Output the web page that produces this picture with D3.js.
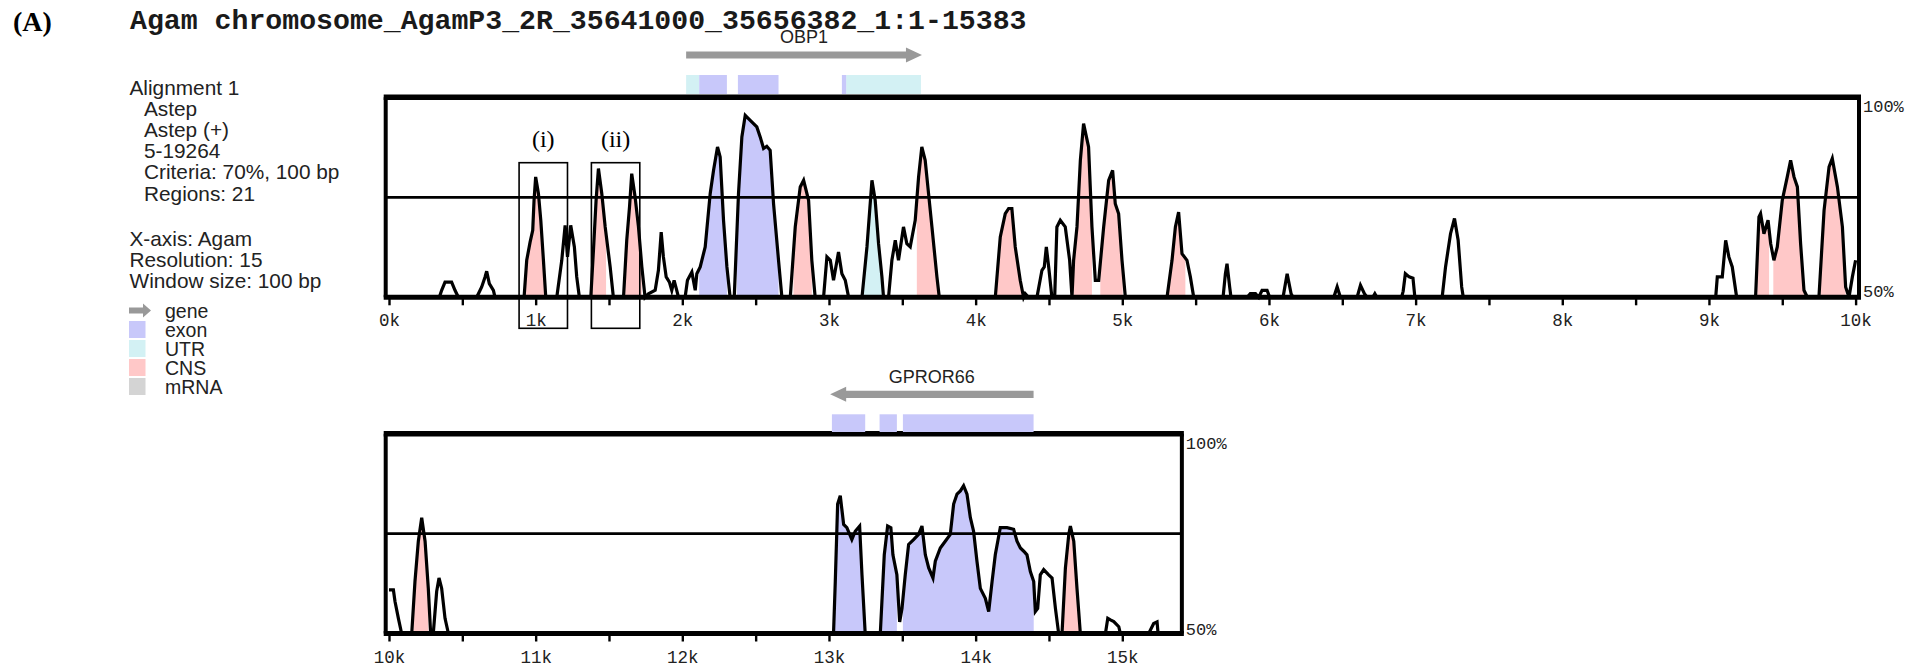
<!DOCTYPE html>
<html><head><meta charset="utf-8">
<script src="https://cdn.jsdelivr.net/npm/d3@7"></script>
<style>body{margin:0;background:#fff;} svg{display:block}</style>
</head><body><svg id="chart" width="1923" height="669"></svg>
<script>
// ---------------- DATA ----------------
const figureLabel = "(A)";
const title = "Agam chromosome_AgamP3_2R_35641000_35656382_1:1-15383";
const infoLines = ["Alignment 1", "Astep", "Astep (+)", "5-19264", "Criteria: 70%, 100 bp", "Regions: 21"];
const infoIndent = [0, 1, 1, 1, 1, 1];
const axisInfoLines = ["X-axis: Agam", "Resolution: 15", "Window size: 100 bp"];
const legendLabels = ["gene", "exon", "UTR", "CNS", "mRNA"];
const legendColors = ["#999999", "#c8c8fa", "#d3f1f4", "#ffc8c8", "#d4d4d4"];
const yTickLabels = ["100%", "50%"];
const threshold = 75;

// conservation profile [bp, % identity]
const topProfile = [
 [0,50],[343,50],[359,51.75],[382,53.8],[427,53.8],[450,51.75],[473,50],
 [598,50],[632,52.6],[655,55.1],[666,56.5],[684,53.4],[712,51.75],[723,50],
 [921,50],[939,59.25],[962,63.8],[980,66.75],[989,74.25],[1000,80.1],[1019,75.9],[1035,69.25],[1053,59.25],[1069,50],
 [1144,50],[1178,59.25],[1201,68],[1217,60.1],[1239,68],[1264,62.6],[1280,55.1],[1298,50],
 [1376,50],[1394,61.75],[1412,74.25],[1428,82.2],[1451,75.9],[1474,67.6],[1508,57.6],[1530,50],
 [1599,50],[1621,64.25],[1640,72.6],[1655,80.9],[1678,75.1],[1701,67.6],[1724,57.6],[1746,50],
 [1769,50.9],[1815,51.75],[1837,56.75],[1856,66.3],[1871,60.1],[1890,55.1],[1912,53.8],[1928,51.75],[1944,54.25],[1962,51.75],[1974,50],
 [2019,50],[2035,54.25],[2065,56.3],[2088,51.75],[2099,55.9],[2122,57.6],[2156,62.6],[2190,75.9],[2213,81.75],[2240,87.6],[2258,85.1],[2281,69.25],[2304,57.6],[2326,50],
 [2354,50],[2383,75.9],[2406,90.1],[2429,95.5],[2463,94.25],[2508,92.6],[2531,90.1],[2554,87.2],[2576,87.75],[2599,86.75],[2622,73.4],[2656,59.25],[2679,50],
 [2736,50],[2770,67.6],[2804,77.6],[2827,79.25],[2861,74.25],[2883,59.25],[2906,50],
 [2963,50],[2986,60.1],[3009,59.25],[3031,54.25],[3065,61.3],[3088,55.9],[3111,54.25],[3134,50],
 [3225,50],[3259,62.6],[3293,79.25],[3315,74.25],[3338,63.4],[3361,55.1],[3372,50],
 [3406,50],[3429,59.25],[3452,64.25],[3474,59.25],[3508,67.6],[3531,63.4],[3554,62.6],[3588,69.25],[3611,80.1],[3633,87.6],[3656,84.25],[3679,75.9],[3702,67.6],[3736,55.1],[3752,50],
 [4134,50],[4168,65.1],[4202,70.9],[4225,72.2],[4247,72.2],[4270,62.6],[4304,54.25],[4327,50],[4338,50.9],[4361,50],
 [4418,50],[4452,56.75],[4468,57.6],[4482,62.6],[4498,57.6],[4520,50],
 [4539,50],[4554,67.6],[4577,69.25],[4611,67.6],[4641,59.25],[4657,50],
 [4668,59.25],[4691,67.6],[4714,84.25],[4736,93.4],[4770,87.6],[4793,67.6],[4816,54.25],[4839,54.25],[4873,67.6],[4907,79.25],[4934,81.75],[4952,73.4],[4975,70.9],[4998,59.25],[5021,50],
 [5305,50],[5339,59.25],[5362,67.6],[5384,71.3],[5407,60.9],[5441,59.25],[5464,55.1],[5487,50],
 [5687,50],[5703,55.9],[5714,58.4],[5732,52.6],[5741,50],
 [5851,50],[5873,50.9],[5908,50.9],[5930,50],[5953,51.75],[5987,51.75],[6005,50],
 [6096,50],[6124,55.9],[6151,50.9],[6164,50],
 [6442,50],[6465,52.6],[6487,50],[6601,50],[6624,53],[6651,50.9],[6669,50],
 [6708,50],[6722,50.9],[6736,50],
 [6904,50],[6915,51.5],[6930,55.9],[6956,55.1],[6982,54.8],[6995,50],
 [7181,50],[7204,57.6],[7238,65.9],[7265,69.7],[7290,64.25],[7314,52.6],[7325,50],
 [9046,50],[9057,55.1],[9091,55.1],[9114,64.25],[9136,60.1],[9159,57.6],[9189,50],
 [9318,50],[9341,70.1],[9352,70.9],[9375,65.9],[9403,69.25],[9421,63.4],[9443,59.25],[9466,62.6],[9500,74.25],[9534,80.1],[9557,84.25],[9580,80.1],[9603,77.6],[9625,63.4],[9648,51.75],[9671,50],
 [9750,50],[9785,71.75],[9819,82.6],[9841,84.7],[9876,77.6],[9910,67.6],[9932,52.6],[9955,50],[9978,55.1],[10000,59.25]
];
const bottomProfile = [
 [10000,60.9],[10030,60.9],[10041,58],[10064,53.8],[10086,50],
 [10155,50],[10177,63],[10200,73.1],[10223,79],[10246,73.1],[10268,61.3],[10284,50],
 [10302,50],[10325,60.5],[10341,63.9],[10359,61.3],[10382,53.8],[10405,50],
 [13031,50],[13043,63],[13059,82.4],[13077,84.5],[13100,77.3],[13122,76.5],[13156,73.5],[13179,75.6],[13209,76.9],[13225,64.7],[13247,50],
 [13350,50],[13377,69.7],[13400,76.9],[13422,76.5],[13436,69.7],[13463,64.7],[13482,52.9],[13498,56.3],[13520,64.7],[13543,72.3],[13577,73.5],[13611,74.8],[13634,76.9],[13657,69.7],[13680,66.4],[13709,63.9],[13725,68.1],[13759,71.4],[13793,73.1],[13827,74.8],[13850,82.4],[13873,84.9],[13896,85.7],[13918,87],[13941,84.9],[13964,79],[13986,75.6],[14009,68.1],[14032,61.3],[14066,58.8],[14089,55.5],[14112,63],[14134,69.7],[14168,76.5],[14214,76.5],[14259,76.1],[14282,73.1],[14305,71.4],[14328,70.6],[14350,69.7],[14373,65.5],[14396,63],[14407,55.5],[14423,56.3],[14441,64.7],[14464,66],[14498,64.7],[14521,63.9],[14544,56.3],[14566,50],
 [14589,50],[14612,66.4],[14635,74.8],[14646,76.9],[14669,73.1],[14691,61.3],[14714,50],
 [14885,50],[14901,53.8],[14919,53.4],[14942,53],[14976,51.7],[14987,50],
 [15180,50],[15214,52.5],[15237,52.9],[15244,50],[15383,50]
];

// shaded conserved regions [start, end]
const cnsFill = [[928,1076],[1371,1480],[1610,1724],[2758,2883],[3599,3752],[4145,4316],[4668,4793],[4850,5003],[5316,5430],[9330,9410],[9439,9648],[9762,9932],[10166,10268],[14600,14714]];
const exonFill = [[2115,2304],[2372,2656],[13031,13247],[13361,13463],[13504,14396]];
const utrFill = [[3236,3360]];

// gene annotation track
const geneNames = ["OBP1", "GPROR66"];
const geneStarts = [2026, 13008];
const geneEnds = [3634, 14395];
const geneStrands = ["+", "-"];
const exonBoxes = [[2115,2304],[2379,2656],[3088,3117],[13020,13247],[13345,13463],[13504,14395]];
const utrBoxes = [[2026,2115],[3117,3627]];

// highlighted windows
const boxLabels = ["(i)", "(ii)"];
const boxStarts = [887, 1380];
const boxEnds = [1217, 1710];

// ---------------- DRAWING ----------------
const svg = d3.select("#chart");
const sans = "'Liberation Sans', Arial, sans-serif";
const mono = "'Liberation Mono', 'Courier New', monospace";
const serif = "'Liberation Serif', 'Times New Roman', serif";

svg.append("text").attr("x", 13).attr("y", 21).attr("dominant-baseline", "central")
  .attr("font-family", serif).attr("font-weight", "bold").attr("font-size", 28).text(figureLabel);
svg.append("text").attr("x", 130).attr("y", 21).attr("dominant-baseline", "central")
  .attr("font-family", mono).attr("font-weight", "bold").attr("font-size", 28.2).attr("fill", "#1a1a1a").text(title);

// info text
infoLines.forEach((t, i) => {
  svg.append("text").attr("x", 129.5 + infoIndent[i] * 14.5).attr("y", 87 + i * 21.2)
    .attr("dominant-baseline", "central").attr("font-family", sans).attr("font-size", 20.8)
    .attr("fill", "#222").text(t);
});
axisInfoLines.forEach((t, i) => {
  svg.append("text").attr("x", 129.5).attr("y", 238.5 + i * 20.8)
    .attr("dominant-baseline", "central").attr("font-family", sans).attr("font-size", 20.8)
    .attr("fill", "#222").text(t);
});
// legend
legendLabels.forEach((t, i) => {
  const cy = 310.5 + i * 19;
  if (i === 0) {
    svg.append("path").attr("fill", legendColors[0])
      .attr("d", `M129,${cy-3}H143V${cy-7}L151,${cy}L143,${cy+7}V${cy+3}H129Z`);
  } else {
    svg.append("rect").attr("x", 129).attr("y", cy - 8.5).attr("width", 16.5).attr("height", 17)
      .attr("fill", legendColors[i]);
  }
  svg.append("text").attr("x", 165).attr("y", cy).attr("dominant-baseline", "central")
    .attr("font-family", sans).attr("font-size", 19.5).attr("fill", "#222").text(t);
});

const pxPerBp = 0.14666;
const panels = [
  {domain: [0, 10000], profile: topProfile, y50: 297.3, y100: 97.3, arrowY: 55, boxTop: 75, boxBot: 94, labelY: 36.5, fs100: 10, fs50: -5},
  {domain: [10000, 15383], profile: bottomProfile, y50: 633.5, y100: 433.8, arrowY: 394.3, boxTop: 414.3, boxBot: 432, labelY: 377, fs100: 10.5, fs50: -3.5}
];

function valAt(profile, bp) {
  for (let i = 0; i < profile.length - 1; i++) {
    const a = profile[i], b = profile[i + 1];
    if (bp >= a[0] && bp <= b[0]) {
      if (b[0] === a[0]) return a[1];
      return a[1] + (b[1] - a[1]) * (bp - a[0]) / (b[0] - a[0]);
    }
  }
  return 50;
}

panels.forEach(p => {
  const x = d3.scaleLinear().domain(p.domain).range([389, 389 + (p.domain[1] - p.domain[0]) * pxPerBp]);
  const y = d3.scaleLinear().domain([50, 100]).range([p.y50, p.y100]);
  const g = svg.append("g");
  const inDom = r => r[1] > p.domain[0] && r[0] < p.domain[1];
  const area = d3.area().x(d => x(d[0])).y0(y(50)).y1(d => y(d[1]));

  function fillRegions(regions, color) {
    regions.filter(inDom).forEach(r => {
      const a = Math.max(r[0], p.domain[0]), b = Math.min(r[1], p.domain[1]);
      const pts = [[a, valAt(p.profile, a)]].concat(p.profile.filter(d => d[0] > a && d[0] < b), [[b, valAt(p.profile, b)]]);
      g.append("path").attr("d", area(pts)).attr("fill", color);
    });
  }
  fillRegions(exonFill, legendColors[1]);
  fillRegions(utrFill, legendColors[2]);
  fillRegions(cnsFill, legendColors[3]);

  const xl = x(p.domain[0]) - 3.3, xr = x(p.domain[1]) + 3.4;
  // threshold line
  g.append("line").attr("x1", xl).attr("x2", xr).attr("y1", y(threshold)).attr("y2", y(threshold))
    .attr("stroke", "#000").attr("stroke-width", 2.8);
  // conservation curve
  g.append("path").attr("d", d3.line().x(d => x(d[0])).y(d => y(d[1]))(p.profile))
    .attr("fill", "none").attr("stroke", "#000").attr("stroke-width", 3.2).attr("stroke-linejoin", "miter");
  // frame
  g.append("line").attr("x1", xl - 2).attr("x2", xr + 2).attr("y1", y(100)).attr("y2", y(100)).attr("stroke", "#000").attr("stroke-width", 5.5);
  g.append("line").attr("x1", xl - 2).attr("x2", xr + 2).attr("y1", y(50)).attr("y2", y(50)).attr("stroke", "#000").attr("stroke-width", 5);
  g.append("line").attr("x1", xl).attr("x2", xl).attr("y1", y(100)).attr("y2", y(50)).attr("stroke", "#000").attr("stroke-width", 4);
  g.append("line").attr("x1", xr).attr("x2", xr).attr("y1", y(100)).attr("y2", y(50)).attr("stroke", "#000").attr("stroke-width", 4);

  // x axis
  const tickVals = d3.range(p.domain[0], p.domain[1] + 1, 500);
  const axis = d3.axisBottom(x).tickValues(tickVals).tickSize(8).tickPadding(4)
    .tickFormat(d => d % 1000 === 0 ? (d / 1000) + "k" : "");
  const ag = g.append("g").attr("transform", `translate(0,${p.y50})`).call(axis);
  ag.select(".domain").remove();
  ag.selectAll(".tick line").attr("stroke", "#000").attr("stroke-width", 2.4);
  ag.selectAll(".tick text").attr("y", 23).attr("dy", "0.35em").attr("font-family", mono)
    .attr("font-size", 17.5).attr("fill", "#222");

  // y labels
  g.append("text").attr("x", xr + 4).attr("y", y(100) + p.fs100).attr("dominant-baseline", "central")
    .attr("font-family", mono).attr("font-size", 17).attr("fill", "#222").text(yTickLabels[0]);
  g.append("text").attr("x", xr + 4).attr("y", y(50) + p.fs50).attr("dominant-baseline", "central")
    .attr("font-family", mono).attr("font-size", 17).attr("fill", "#222").text(yTickLabels[1]);

  // annotation boxes
  utrBoxes.filter(inDom).forEach(r => g.append("rect").attr("x", x(r[0])).attr("width", x(r[1]) - x(r[0]))
    .attr("y", p.boxTop).attr("height", p.boxBot - p.boxTop).attr("fill", legendColors[2]));
  exonBoxes.filter(inDom).forEach(r => g.append("rect").attr("x", x(r[0])).attr("width", x(r[1]) - x(r[0]))
    .attr("y", p.boxTop).attr("height", p.boxBot - p.boxTop).attr("fill", legendColors[1]));

  // gene arrows
  geneNames.forEach((nm, i) => {
    if (!(geneEnds[i] > p.domain[0] && geneStarts[i] < p.domain[1])) return;
    const s = x(geneStarts[i]), e = x(geneEnds[i]), cy = p.arrowY, hl = 16, sh = 3.6, hh = 7.5;
    let d;
    if (geneStrands[i] === "+") {
      d = `M${s},${cy-sh}H${e-hl}V${cy-hh}L${e},${cy}L${e-hl},${cy+hh}V${cy+sh}H${s}Z`;
    } else {
      d = `M${e},${cy-sh}H${s+hl}V${cy-hh}L${s},${cy}L${s+hl},${cy+hh}V${cy+sh}H${e}Z`;
    }
    g.append("path").attr("d", d).attr("fill", legendColors[0]);
    g.append("text").attr("x", (s + e) / 2).attr("y", p.labelY).attr("text-anchor", "middle")
      .attr("dominant-baseline", "central").attr("font-family", sans).attr("font-size", 18)
      .attr("fill", "#222").text(nm);
  });

  // highlight boxes
  boxLabels.forEach((lb, i) => {
    if (!(boxEnds[i] > p.domain[0] && boxStarts[i] < p.domain[1])) return;
    g.append("rect").attr("x", x(boxStarts[i])).attr("width", x(boxEnds[i]) - x(boxStarts[i]))
      .attr("y", 162.7).attr("height", 165.6).attr("fill", "none").attr("stroke", "#000").attr("stroke-width", 1.6);
    g.append("text").attr("x", (x(boxStarts[i]) + x(boxEnds[i])) / 2).attr("y", 138.5)
      .attr("text-anchor", "middle").attr("dominant-baseline", "central")
      .attr("font-family", serif).attr("font-size", 24).attr("fill", "#000").text(lb);
  });
});
</script></body></html>
